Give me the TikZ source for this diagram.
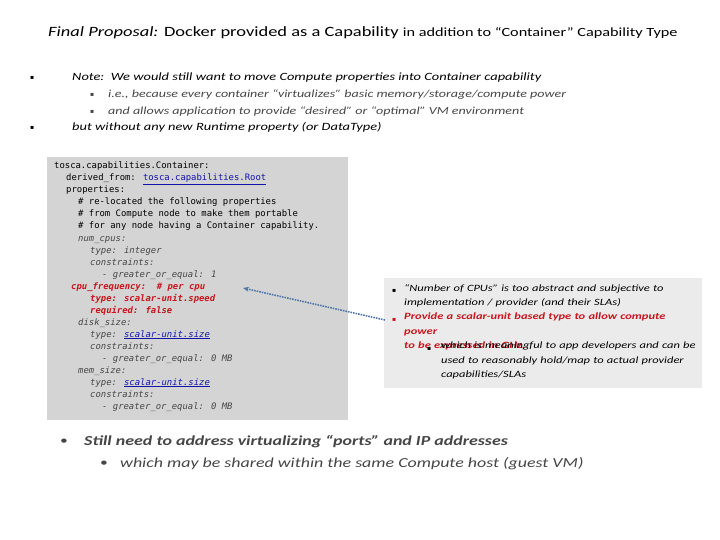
\documentclass[tikz,border=0pt]{standalone}
\usepackage{fontspec}
\setmainfont[FakeStretch=1.3]{Carlito}
\newfontfamily\codefont{DejaVu Sans Mono}
\newfontfamily\symfont{DejaVu Sans}
\usetikzlibrary{arrows.meta}
\definecolor{cred}{RGB}{200,20,30}
\definecolor{clink}{RGB}{20,20,170}
\definecolor{tgray}{RGB}{70,70,70}
\definecolor{arrowblue}{RGB}{80,120,170}
\begin{document}
\begin{tikzpicture}[x=1pt,y=-1pt,
  code/.style={anchor=base west,inner sep=0pt,font=\codefont\fontsize{8.9}{9}\selectfont},
  ci/.style={code,font=\codefont\itshape\fontsize{8.9}{9}\selectfont,text=tgray},
  cr/.style={code,font=\codefont\bfseries\itshape\fontsize{8.9}{9}\selectfont,text=cred},
  bul/.style={anchor=base west,inner sep=0pt,font=\symfont\fontsize{6}{8}\selectfont}]
\useasboundingbox (0,0) rectangle (720,540);
\node[anchor=base west,inner sep=0pt,font=\fontsize{14.2}{16}\selectfont] (title) at (48,37)
 {\textit{Final Proposal:} Docker provided as a Capability {\fontsize{12.5}{14}\selectfont in addition to “Container” Capability Type}};
\node[bul] (b1) at (30,80) {▪};
\node[bul] (b2) at (30,130) {▪};
\node[anchor=base west,inner sep=0pt,font=\fontsize{11.1}{12}\selectfont\itshape] (n1) at (72,81) {Note:\ \ We would still want to move Compute properties into Container capability};
\node[bul,text=tgray] (b11) at (90,97) {▪};
\node[anchor=base west,inner sep=0pt,font=\fontsize{10.8}{11}\selectfont\itshape,text=tgray] (n11) at (108,98) {i.e., because every container “virtualizes” basic memory/storage/compute power};
\node[bul,text=tgray] (b12) at (90,114) {▪};
\node[anchor=base west,inner sep=0pt,font=\fontsize{10.8}{11}\selectfont\itshape,text=tgray] (n12) at (108,115) {and allows application to provide “desired” or “optimal” VM environment};
\node[anchor=base west,inner sep=0pt,font=\fontsize{11.1}{12}\selectfont\itshape] (n2) at (72,131) {but without any new Runtime property (or DataType)};
\fill[black!17] (47,157) rectangle (348,420);
\node[code] (c1) at (54,169) {tosca.capabilities.Container:};
\node[code] (c2) at (66,181) {derived\_from: {\color{clink}\underline{tosca.capabilities.Root}}};
\node[code] (c3) at (66,193) {properties:};
\node[code] (c4) at (78,205) {\# re-located the following properties};
\node[code] (c5) at (78,217) {\# from Compute node to make them portable};
\node[code] (c6) at (78,229) {\# for any node having a Container capability.};
\node[ci] (c7) at (78,241) {num\_cpus:};
\node[ci] (c8) at (90,253) {type: integer};
\node[ci] (c9) at (90,265) {constraints:};
\node[ci] (c10) at (102,277) {- greater\_or\_equal: 1};
\node[cr] (c11) at (71,289) {cpu\_frequency:\ \ \# per cpu};
\node[cr] (c12) at (90,301) {type: scalar-unit.speed};
\node[cr] (c13) at (90,313) {required: false};
\node[ci] (c14) at (78,325) {disk\_size:};
\node[ci] (c15) at (90,337) {type: {\color{clink}\underline{scalar-unit.size}}};
\node[ci] (c16) at (90,349) {constraints:};
\node[ci] (c17) at (102,361) {- greater\_or\_equal: 0 MB};
\node[ci] (c18) at (78,373) {mem\_size:};
\node[ci] (c19) at (90,385) {type: {\color{clink}\underline{scalar-unit.size}}};
\node[ci] (c20) at (90,397) {constraints:};
\node[ci] (c21) at (102,409) {- greater\_or\_equal: 0 MB};
\fill[black!8] (384,278) rectangle (702,388);
\node[bul] at (392,292) {▪};
\node[anchor=north west,inner sep=0pt,text width=295pt,align=left,font=\fontsize{9.6}{14.4}\selectfont\itshape] (r1) at (404,284) {“Number of CPUs” is too abstract and subjective to\\ implementation / provider (and their SLAs)};
\node[bul,text=cred] at (392,321) {▪};
\node[anchor=north west,inner sep=0pt,text width=295pt,align=left,font=\fontsize{9.6}{14.4}\selectfont\bfseries\itshape,text=cred] (r2) at (404,313) {Provide a scalar-unit based type to allow compute power\\ to be expressed in GHz,};
\node[bul] at (427,350) {▪};
\node[anchor=north west,inner sep=0pt,text width=260pt,align=left,font=\fontsize{9.6}{14.4}\selectfont\itshape] (r3) at (441,342) {which is meaningful to app developers and can be\\ used to reasonably hold/map to actual provider\\ capabilities/SLAs};
\coordinate (as) at (385,320);
\coordinate (ae) at (243,288);
\draw[arrowblue,line width=1.6pt,densely dotted,-{Stealth[length=6pt,width=5pt]}] (as) -- (ae);
\node[anchor=base west,inner sep=0pt,font=\fontsize{12}{13}\selectfont,text=tgray] (b3) at (60,444) {•};
\node[anchor=base west,inner sep=0pt,font=\fontsize{13.8}{16}\selectfont\bfseries\itshape,text=tgray] (s1) at (84,445) {Still need to address virtualizing “ports” and IP addresses};
\node[anchor=base west,inner sep=0pt,font=\fontsize{12}{13}\selectfont,text=tgray] (b4) at (100,466) {•};
\node[anchor=base west,inner sep=0pt,font=\fontsize{13.8}{15}\selectfont\itshape,text=tgray] (s2) at (120,467) {which may be shared within the same Compute host (guest VM)};
\end{tikzpicture}
\end{document}
